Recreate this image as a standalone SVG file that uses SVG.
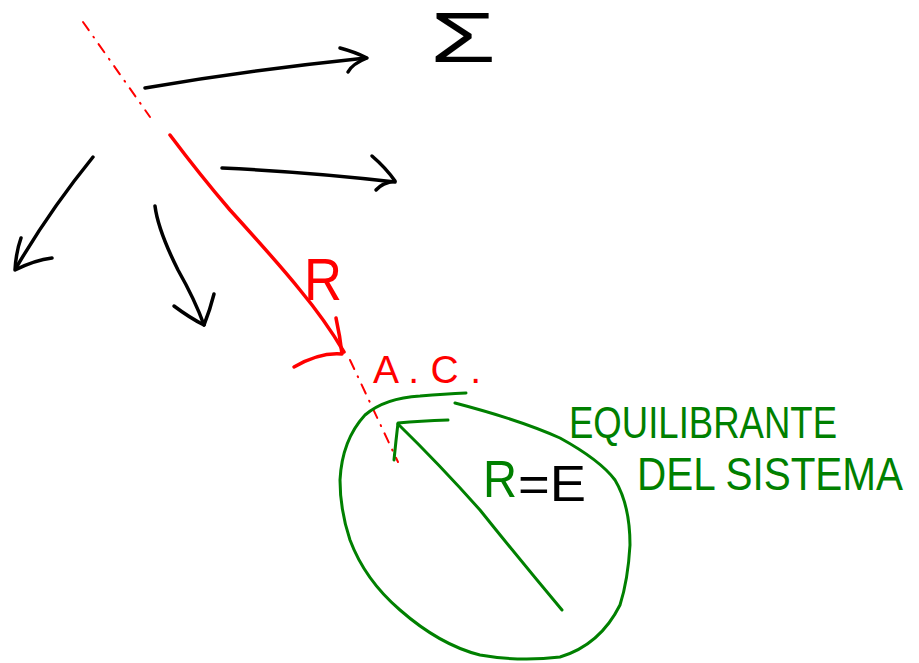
<svg xmlns="http://www.w3.org/2000/svg" width="919" height="663" viewBox="0 0 919 663">
<style>
.blk{fill:none;stroke:#000;stroke-width:3.5;stroke-linecap:round;stroke-linejoin:round}
.red{fill:none;stroke:#ff0000;stroke-width:3.5;stroke-linecap:round;stroke-linejoin:round}
.redd{fill:none;stroke:#ff0000;stroke-width:2;stroke-linecap:round;stroke-dasharray:10 8 1 8}
.grn{fill:none;stroke:#008000;stroke-width:3;stroke-linecap:round;stroke-linejoin:round}
.t{font-family:"Liberation Sans","DejaVu Sans",sans-serif}
</style>
<rect width="919" height="663" fill="#fff"/>
<g id="forces">
  <g id="f1"><path class="blk" d="M145,88 Q250,70 366,58"/><path class="blk" d="M340,48 Q355,52 367,58 Q352,64 348,72"/></g>
  <g id="f2"><path class="blk" d="M222,168 Q310,172 395,182"/><path class="blk" d="M372,156 Q386,168 395,181 Q382,183 376,190"/></g>
  <g id="f3"><path class="blk" d="M93,157 Q50,210 16,268"/><path class="blk" d="M21,238 Q16,252 15,270 Q35,260 52,258"/></g>
  <g id="f4"><path class="blk" d="M155,206 Q158,230 178,270 Q195,300 204,325"/><path class="blk" d="M174,306 Q190,318 204,325 Q210,310 214,294"/></g>
  <text class="t" x="430" y="62" font-size="70" font-weight="300" textLength="66" lengthAdjust="spacingAndGlyphs">Σ</text>
</g>
<g id="resultant">
  <path class="redd" d="M83,22 L150,117"/>
  <path class="red" d="M170,135 Q200,175 230,210 Q280,265 300,290 Q325,320 344,352"/>
  <path class="red" d="M336,318 Q340,336 342,354 Q320,352 294,367"/>
  <path class="redd" d="M350,360 L398,462"/>
  <text class="t" x="304" y="300" font-size="60" fill="#ff0000" textLength="38" lengthAdjust="spacingAndGlyphs">R</text>
  <text class="t" x="373" y="383" font-size="39" fill="#ff0000" textLength="108" lengthAdjust="spacing">A . C .</text>
</g>
<g id="equilibrant">
  <path class="grn" d="M455,403 Q520,420 560,438 Q600,460 615,480 Q630,505 630,545 Q628,580 620,605 Q600,645 560,657 Q520,662 480,655 Q440,645 400,610 Q365,580 350,540 Q340,510 340,480 Q342,440 365,415 Q385,398 420,396 Q445,394 466,393"/>
  <path class="grn" d="M562,610 Q520,560 480,510 Q440,465 398,424"/>
  <path class="grn" d="M394,460 Q396,440 398,423 Q420,421 448,420"/>
  <text class="t" x="483" y="497" font-size="52" fill="#008000" textLength="34" lengthAdjust="spacingAndGlyphs">R</text>
  <text class="t" x="518" y="501" font-size="50" fill="#000" textLength="68" lengthAdjust="spacingAndGlyphs">=E</text>
  <text class="t" x="569" y="438" font-size="45" fill="#008000" textLength="268" lengthAdjust="spacingAndGlyphs">EQUILIBRANTE</text>
  <text class="t" transform="translate(637,490) scale(1,1.2)" x="0" y="0" font-size="39" fill="#008000" textLength="266" lengthAdjust="spacingAndGlyphs">DEL  SISTEMA</text>
</g>
</svg>
